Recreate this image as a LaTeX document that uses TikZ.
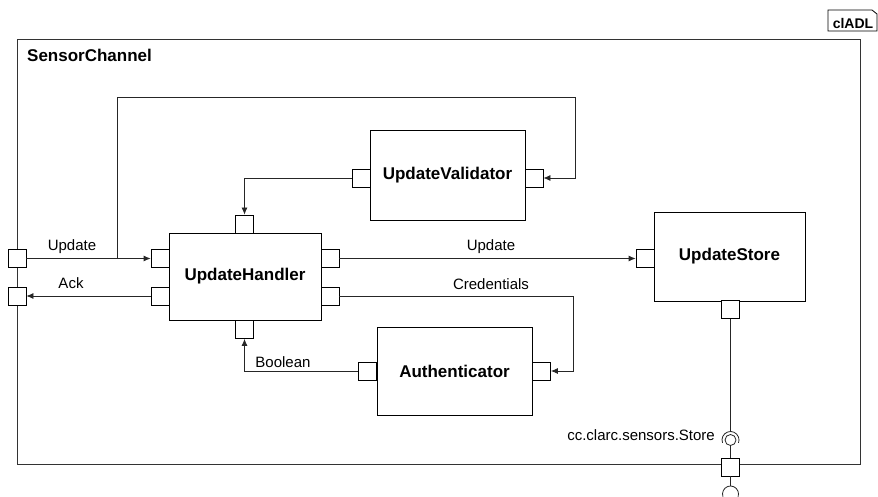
\documentclass[tikz,border=0pt]{standalone}
\usepackage{fontspec}
\setmainfont{Liberation Sans}
\usetikzlibrary{arrows.meta}
\begin{document}
\begin{tikzpicture}[x=1pt,y=-1pt,
  comp/.style={draw=black, line width=0.9pt, fill=white, inner sep=0pt, font=\fontsize{17}{20}\selectfont\bfseries},
  port/.style={draw=black, line width=0.8pt, fill=white, minimum size=18pt, inner sep=0pt},
  conn/.style={draw=black!85, line width=0.8pt},
  arr/.style={conn, -{Latex[length=7pt,width=6pt]}},
  lbl/.style={font=\fontsize{15}{18}\selectfont, inner sep=0pt, anchor=base}]
\useasboundingbox (0,0) rectangle (878,497);
% clADL tag
\draw[line width=0.8pt] (828,31) -- (828,10) -- (872,10) -- (877,14) -- (877,31) -- cycle;
\node[font=\fontsize{14}{16}\selectfont\bfseries, inner sep=0pt, anchor=base] (tag) at (853,29) {clADL};
% outer component
\node[draw=black!80, line width=0.9pt, minimum width=843pt, minimum height=425pt, inner sep=0pt, anchor=north west] (sc) at (17,39) {};
\node[font=\fontsize{17}{20}\selectfont\bfseries, inner sep=0pt, anchor=base west] (sctitle) at (27,62) {SensorChannel};
% inner components
\node[comp, minimum width=155pt, minimum height=90pt] (uv) at (447.5,175) {UpdateValidator};
\node[comp, minimum width=152pt, minimum height=87pt] (uh) at (245,276.5) {UpdateHandler};
\node[comp, minimum width=151pt, minimum height=89pt] (us) at (729.5,256.5) {UpdateStore};
\node[comp, minimum width=155pt, minimum height=88pt] (au) at (454.5,371) {Authenticator};
% ports
\node[port] (ocU) at (17,258.5) {};
\node[port] (ocA) at (17,296) {};
\node[port] (uhLU) at (160,258.5) {};
\node[port] (uhLA) at (160,296) {};
\node[port] (uhRU) at (330,258.5) {};
\node[port] (uhRC) at (330,296) {};
\node[port] (uhT) at (244.5,224) {};
\node[port] (uhB) at (244.5,329.5) {};
\node[port] (uvL) at (361,178) {};
\node[port] (uvR) at (534,178) {};
\node[port] (auL) at (367.5,371) {};
\node[port] (auR) at (541.5,371) {};
\node[port] (usL) at (645,258.5) {};
\node[port] (usB) at (730.5,309.5) {};
\node[port] (scB) at (730.5,467) {};
% coordinates for bends
\coordinate (b1) at (117,258.5);
\coordinate (t1) at (117,97);
\coordinate (t2) at (575,97);
\coordinate (c1) at (573,296);
\coordinate (sock) at (730.5,440);
\coordinate (sockT) at (730.5,431.5);
\coordinate (sockB) at (730.5,445.5);
\coordinate (sock2) at (730.5,494);
\coordinate (sock2T) at (730.5,486);
% connectors
\draw[arr] (ocU.east) -- (uhLU.west);
\draw[arr] (b1) -- (t1) -- (t2) |- (uvR.east);
\draw[arr] (uvL.west) -| (uhT.north);
\draw[arr] (uhRU.east) -- (usL.west);
\draw[arr] (uhRC.east) -- (c1) |- (auR.east);
\draw[arr] (auL.west) -| (uhB.south);
\draw[arr] (uhLA.west) -- (ocA.east);
% interface line
\draw[conn] (usB.south) -- (sockT);
\draw[conn] (sockB) -- (scB.north);
\draw[conn] (scB.south) -- (sock2T);
\draw[conn] (sock) ++(160:8.5) arc[start angle=160, end angle=380, radius=8.5];
\draw[conn] (sock) circle[radius=5.5];
\draw[conn] (sock2) ++(160:8) arc[start angle=160, end angle=380, radius=8];
% labels
\node[lbl] (l1) at (72,251) {Update};
\node[lbl] (l2) at (71,288) {Ack};
\node[lbl] (l3) at (491,251) {Update};
\node[lbl] (l4) at (491,289) {Credentials};
\node[lbl] (l5) at (283,367) {Boolean};
\node[lbl, anchor=base east] (l6) at (715,440) {cc.clarc.sensors.Store};
\end{tikzpicture}
\end{document}
